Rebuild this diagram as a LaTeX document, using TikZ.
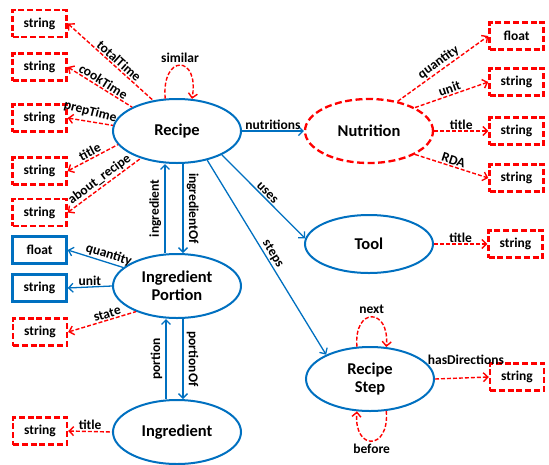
\documentclass[tikz,border=0pt]{standalone}
\usepackage{fontspec}
\setmainfont{Carlito}
\usetikzlibrary{shapes.geometric,arrows.meta}
\definecolor{myblue}{RGB}{0,112,192}
\definecolor{myred}{RGB}{255,0,0}
\begin{document}
\begin{tikzpicture}[x=1pt,y=1pt,
  >={Straight Barb[length=4.5pt,width=9pt]},
  ent/.style={ellipse,draw=myblue,line width=2pt,minimum width=128pt,minimum height=64pt,inner sep=0pt,align=center,font=\fontsize{16.5}{18}\selectfont\bfseries},
  lit/.style={ellipse,draw=myred,line width=2.3pt,dash pattern=on 7pt off 3.5pt,minimum width=128pt,minimum height=64pt,inner sep=0pt,align=center,font=\fontsize{16.5}{18}\selectfont\bfseries},
  rbox/.style={draw=myred,line width=2.4pt,dash pattern=on 6pt off 2.8pt,minimum width=54pt,minimum height=27pt,inner sep=0pt,font=\fontsize{13.5}{14}\selectfont\bfseries},
  bbox/.style={draw=myblue,line width=2.4pt,minimum width=54pt,minimum height=27pt,inner sep=0pt,font=\fontsize{13.5}{14}\selectfont\bfseries},
  bedge/.style={draw=myblue,line width=1.3pt},
  redge/.style={draw=myred,line width=1.4pt,dash pattern=on 4pt off 2pt},
  lab/.style={font=\fontsize{13.5}{14}\selectfont\bfseries,inner sep=1.2pt},
]
\useasboundingbox (0,0) rectangle (549,-464);

% entity ellipses
\node[ent] (recipe) at (177,-131) {Recipe};
\node[lit] (nutr) at (369,-131) {Nutrition};
\node[ent,minimum height=58pt] (tool) at (369,-244) {Tool};
\node[ent] (step) at (370,-379) {Recipe\\Step};
\node[ent] (ip) at (177,-286) {Ingredient\\Portion};
\node[ent] (ingr) at (177,-432) {Ingredient};

% left boxes
\node[rbox] (ls1) at (39.5,-23.5) {string};
\node[rbox] (ls2) at (39.5,-67) {string};
\node[rbox] (ls3) at (39.5,-118) {string};
\node[rbox] (ls4) at (39.5,-171) {string};
\node[rbox] (ls5) at (39.5,-212.5) {string};
\node[bbox] (lbf) at (39.5,-250) {float};
\node[bbox] (lbs) at (39.5,-288) {string};
\node[rbox] (ls6) at (40,-332) {string};
\node[rbox] (ls7) at (40,-431) {string};

% right boxes
\node[rbox] (rf) at (516.5,-36) {float};
\node[rbox] (rs1) at (516.5,-82) {string};
\node[rbox] (rs2) at (516.5,-131) {string};
\node[rbox] (rs3) at (516.5,-178) {string};
\node[rbox] (rs4) at (515.5,-244) {string};
\node[rbox] (rs5) at (517,-377) {string};

% Recipe literals
\draw[redge,<-] (ls1.east) -- node[lab,above,sloped,pos=0.55]{totalTime} (recipe.128);
\draw[redge,<-] (ls2.east) -- node[lab,above,sloped]{cookTime} (recipe.152);
\draw[redge,<-] (ls3.east) -- node[lab,above=2pt,sloped,pos=0.45,rotate=-5]{prepTime} (recipe.175);
\draw[redge,<-] (ls4.east) -- node[lab,above,sloped]{title} (recipe.193);
\draw[redge,<-] (ls5.east) -- node[lab,above,sloped]{about\_recipe} (recipe.217);
\draw[redge,->] (recipe.110) .. controls +(95:45) and +(80:45) .. node[lab,above=1pt]{similar} (recipe.65);

% Recipe relations
\draw[bedge,->] (recipe.east) -- node[lab,above]{nutritions} (nutr.west);
\draw[bedge,->] (recipe.-28) -- node[lab,above,sloped]{uses} (tool.175);
\draw[bedge,->] (recipe.-44) -- node[lab,above,sloped]{steps} (step.151);
\draw[bedge,->] ([xshift=-12pt]ip.north) -- node[lab,rotate=90,anchor=south,yshift=2pt]{ingredient} ([xshift=-12pt]recipe.south);
\draw[bedge,->] ([xshift=6pt]recipe.south) -- node[lab,rotate=-90,anchor=south,yshift=2pt]{ingredientOf} ([xshift=6pt]ip.north);

% Ingredient Portion
\draw[bedge,<-] (lbf.east) -- node[lab,above,sloped,pos=0.7]{quantity} (ip.161);
\draw[bedge,<-] (lbs.east) -- node[lab,above]{unit} (ip.west);
\draw[redge,<-] (ls6.east) -- node[lab,above,sloped,pos=0.6]{state} (ip.212);
\draw[bedge,->] ([xshift=-11pt]ingr.north) -- node[lab,rotate=90,anchor=south,yshift=2pt]{portion} ([xshift=-11pt]ip.south);
\draw[bedge,->] ([xshift=6pt]ip.south) -- node[lab,rotate=-90,anchor=south,yshift=2pt]{portionOf} ([xshift=6pt]ingr.north);

% Ingredient
\draw[redge,<-] (ls7.east) -- node[lab,above]{title} (ingr.west);

% Nutrition
\draw[redge,->] (nutr.46) -- node[lab,above,sloped]{quantity} (rf.west);
\draw[redge,->] (nutr.27.5) -- node[lab,above,sloped]{unit} (rs1.west);
\draw[redge,->] (nutr.east) -- node[lab,above]{title} (rs2.west);
\draw[redge,->] (nutr.-27.5) -- node[lab,above,sloped]{RDA} (rs3.west);

% Tool
\draw[redge,->] (tool.east) -- node[lab,above]{title} (rs4.west);

% Recipe Step
\draw[redge,->] (step.east) -- node[lab,above=12pt,xshift=4pt]{hasDirections} (rs5.west);
\draw[redge,->] (step.112) .. controls +(95:40) and +(85:40) .. node[lab,above=1pt]{next} (step.63);
\draw[redge,->] (step.-63) .. controls +(-85:40) and +(-95:40) .. node[lab,below=1pt]{before} (step.-112);
\end{tikzpicture}
\end{document}
